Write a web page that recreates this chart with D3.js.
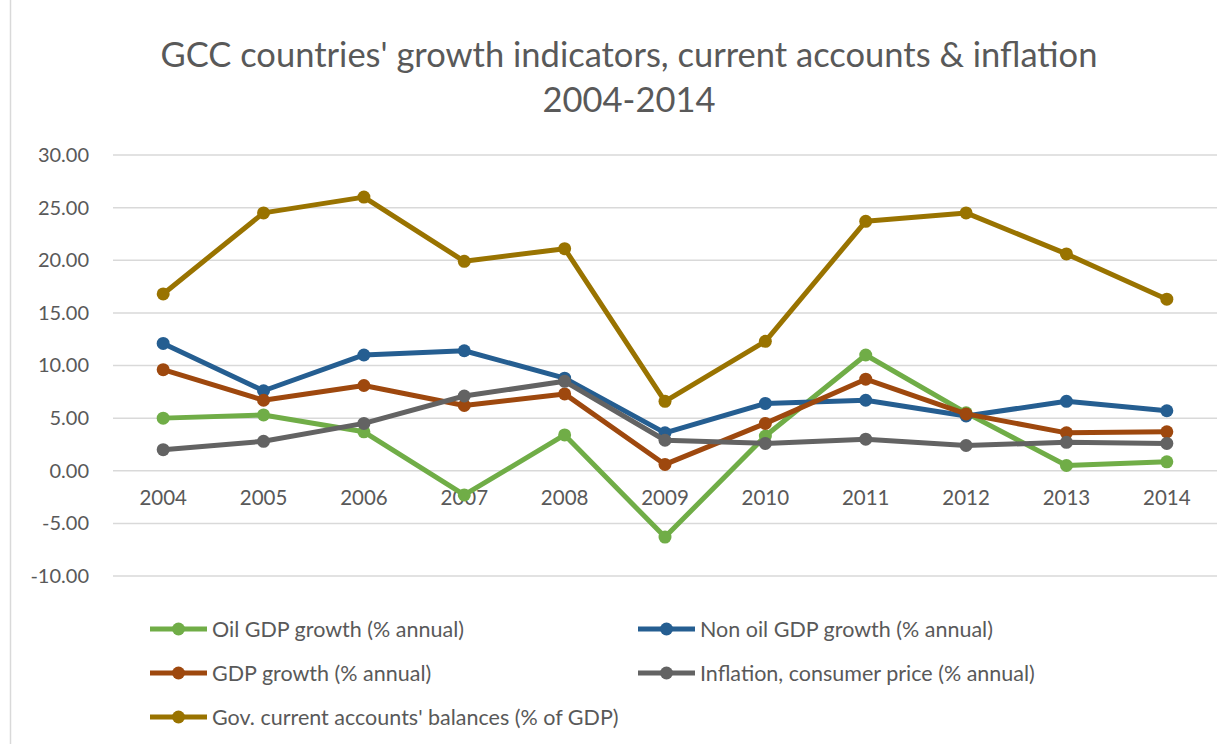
<!DOCTYPE html>
<html lang="en">
<head>
<meta charset="UTF-8">
<script src="https://d3js.org/d3.v7.min.js"></script>
<style>
  body { margin: 0; background: #fff; }
  svg text { font-family: Lato, "Open Sans", sans-serif; fill: #595959; }
</style>
</head>
<body>
<div id="chart"></div>
<script>
// ---- data ----
var years = ["2004", "2005", "2006", "2007", "2008", "2009", "2010", "2011", "2012", "2013", "2014"];
var yTicks = [-10, -5, 0, 5, 10, 15, 20, 25, 30];

var oilGdp      = [5.0, 5.3, 3.7, -2.3, 3.4, -6.3, 3.3, 11.0, 5.5, 0.5, 0.85];
var nonOilGdp   = [12.1, 7.6, 11.0, 11.4, 8.8, 3.6, 6.4, 6.7, 5.2, 6.6, 5.7];
var gdpGrowth   = [9.6, 6.7, 8.1, 6.2, 7.3, 0.6, 4.5, 8.7, 5.4, 3.6, 3.7];
var inflation   = [2.0, 2.8, 4.5, 7.1, 8.5, 2.9, 2.6, 3.0, 2.4, 2.7, 2.6];
var govBalances = [16.8, 24.5, 26.0, 19.9, 21.1, 6.6, 12.3, 23.7, 24.5, 20.6, 16.3];

var seriesNames = ["Oil GDP growth (% annual)", "Non oil GDP growth (% annual)",
  "GDP growth (% annual)", "Inflation, consumer price (% annual)",
  "Gov. current accounts' balances (% of GDP)"];
var seriesColors = ["#70ad47", "#255e91", "#9e480e", "#636363", "#997300"];

// ---- chart ----
var W = 1232, H = 744;
var svg = d3.select("#chart").append("svg")
  .attr("width", W).attr("height", H);

// outer chart border
svg.append("rect")
  .attr("x", 10.5).attr("y", -2)
  .attr("width", W).attr("height", H + 4)
  .attr("fill", "none").attr("stroke", "#d9d9d9").attr("stroke-width", 1.5);

svg.append("text")
  .attr("x", 629).attr("y", 67)
  .attr("text-anchor", "middle")
  .style("font-size", "34.5px")
  .text("GCC countries' growth indicators, current accounts & inflation");
svg.append("text")
  .attr("x", 629).attr("y", 112)
  .attr("text-anchor", "middle")
  .style("font-size", "34.5px")
  .text("2004-2014");

var left = 113, right = 1217;
var x = d3.scaleBand().domain(years).range([left, right]);
var y = d3.scaleLinear().domain([-10, 30]).range([576, 155]);

// gridlines
svg.append("g")
  .selectAll("line")
  .data(yTicks)
  .enter().append("line")
  .attr("x1", left).attr("x2", right)
  .attr("y1", function(d) { return y(d); })
  .attr("y2", function(d) { return y(d); })
  .attr("stroke", "#d9d9d9").attr("stroke-width", 1.5);

// y axis labels (hyphen minus like the original)
var fmt = d3.format(".2f");
var yAxis = svg.append("g")
  .attr("transform", "translate(" + (left - 12) + ",0)")
  .call(d3.axisLeft(y).tickValues(yTicks)
    .tickFormat(function(d) { return fmt(d).replace("\u2212", "-"); })
    .tickSize(0).tickPadding(12));
yAxis.select(".domain").remove();
yAxis.selectAll("text").style("font-size", "20px").attr("fill", "#595959");

// x axis labels sitting on the zero line
var xAxis = svg.append("g")
  .attr("transform", "translate(0," + y(0) + ")")
  .call(d3.axisBottom(x).tickSize(0).tickPadding(20));
xAxis.select(".domain").remove();
xAxis.selectAll("text").style("font-size", "20.5px").attr("fill", "#595959");

var allSeries = [oilGdp, nonOilGdp, gdpGrowth, inflation, govBalances];
var line = d3.line()
  .x(function(d, i) { return x(years[i]) + x.bandwidth() / 2; })
  .y(function(d) { return y(d); });

allSeries.forEach(function(vals, k) {
  var g = svg.append("g");
  g.append("path")
    .datum(vals)
    .attr("d", line)
    .attr("fill", "none")
    .attr("stroke", seriesColors[k])
    .attr("stroke-width", 5)
    .attr("stroke-linejoin", "round");
  g.selectAll("circle")
    .data(vals)
    .enter().append("circle")
    .attr("cx", function(d, i) { return x(years[i]) + x.bandwidth() / 2; })
    .attr("cy", function(d) { return y(d); })
    .attr("r", 6.5)
    .attr("fill", seriesColors[k]);
});

// legend
var legendPos = [[150, 629], [638, 629], [150, 673], [638, 673], [150, 717]];
seriesNames.forEach(function(name, k) {
  var lg = svg.append("g").attr("transform", "translate(" + legendPos[k][0] + "," + legendPos[k][1] + ")");
  lg.append("line")
    .attr("x1", 0).attr("x2", 57)
    .attr("stroke", seriesColors[k]).attr("stroke-width", 5);
  lg.append("circle")
    .attr("cx", 28.5).attr("r", 6.5)
    .attr("fill", seriesColors[k]);
  lg.append("text")
    .attr("x", 62).attr("y", 7.5)
    .style("font-size", "21.5px")
    .text(name);
});
</script>
</body>
</html>
